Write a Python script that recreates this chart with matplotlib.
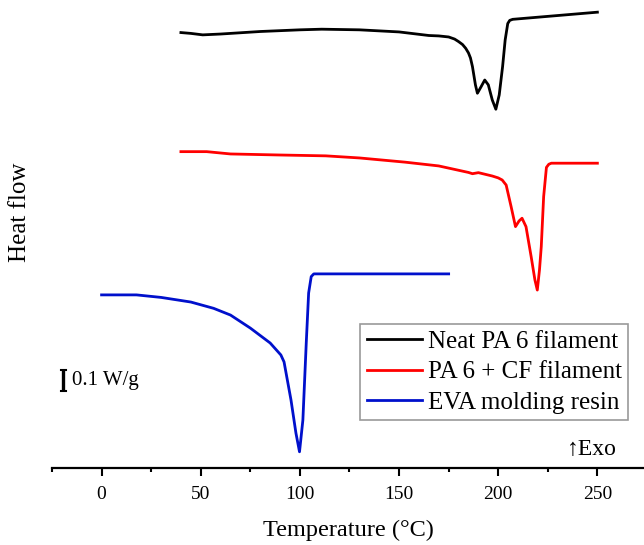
import matplotlib
matplotlib.use("Agg")
import matplotlib.pyplot as plt

plt.rcParams['font.family'] = ['Liberation Serif', 'DejaVu Serif']

# Temperature (°C) and stacked heat flow (W/g, offset)
t_pa6 = [40, 45, 51, 60, 80, 100, 111, 130, 150, 165, 170, 175, 178, 180, 182, 183.6, 185, 186,
         187, 188.5, 189.5, 191, 193.2, 195, 197, 198.8, 200.5, 202.2, 203.5, 204.8, 205.8,
         207.3, 250]
h_pa6 = [2.097, 2.093, 2.086, 2.090, 2.102, 2.110, 2.113, 2.110, 2.100, 2.083, 2.081, 2.076,
         2.066, 2.054, 2.040, 2.022, 2.000, 1.976, 1.935, 1.848, 1.808, 1.833, 1.871, 1.848,
         1.776, 1.732, 1.800, 1.935, 2.062, 2.140, 2.155, 2.160, 2.194]

t_cf = [40, 53, 65, 90, 113, 130, 153, 170, 185, 187, 190, 197, 200, 202, 204, 206.5, 208.7,
        210.5, 212, 214, 216.6, 218.5, 219.7, 220.8, 221.7, 222.9, 224.3, 225.5, 226.8, 250]
h_cf = [1.530, 1.530, 1.519, 1.514, 1.510, 1.500, 1.480, 1.462, 1.431, 1.425, 1.430, 1.414,
        1.405, 1.395, 1.371, 1.268, 1.173, 1.200, 1.213, 1.173, 1.030, 0.919, 0.871, 0.967,
        1.078, 1.316, 1.455, 1.470, 1.475, 1.475]

t_eva = [0, 10, 17.6, 30, 45, 56.5, 65, 75, 85, 90.4, 92, 95.5, 98, 99.8, 101.5, 103.2,
         104.4, 105.7, 107, 175]
h_eva = [0.848, 0.848, 0.848, 0.836, 0.814, 0.784, 0.752, 0.690, 0.619, 0.562, 0.529, 0.348,
         0.190, 0.101, 0.252, 0.619, 0.857, 0.935, 0.948, 0.948]

labels = ["Neat PA 6 filament", "PA 6 + CF filament", "EVA molding resin"]
xticks = [0, 50, 100, 150, 200, 250]

W, H = 644, 545
fig = plt.figure(figsize=(W / 100, H / 100), dpi=100)
ax = fig.add_axes([52 / W, (H - 468.3) / H, 1 - 52 / W, 468.3 / H])

ax.plot(t_pa6, h_pa6, color='black', lw=2.0, label=labels[0])
ax.plot(t_cf, h_cf, color='#ff0000', lw=2.0, label=labels[1])
ax.plot(t_eva, h_eva, color='#0010cc', lw=2.0, label=labels[2])

ax.set_xlim(-25, 273.5)
ax.set_ylim(0.0224, 2.252)
ax.set_xticks(xticks)
ax.set_xticks([-25, 25, 75, 125, 175, 225], minor=True)
ax.tick_params(axis='x', which='major', length=5.5, width=1.5, direction='out', labelsize=14, pad=7)
ax.tick_params(axis='x', which='minor', length=3, width=1.5, direction='out')
ax.set_yticks([])
for s in ['top', 'right', 'left']:
    ax.spines[s].set_visible(False)
ax.spines['bottom'].set_linewidth(1.6)
ax.set_xlabel("Temperature (°C)", fontsize=17.5, labelpad=12)

fig.text(20 / W, 1 - 212 / H, "Heat flow", rotation=90, fontsize=18, ha='center', va='center')

# 0.1 W/g scale bar
ax.plot([-19.3, -19.3], [0.39, 0.49], color='black', lw=2.4, solid_capstyle='butt')
ax.plot([-20.6, -18.0], [0.49, 0.49], color='black', lw=1.5)
ax.plot([-20.6, -18.0], [0.39, 0.39], color='black', lw=1.5)
ax.text(-14.8, 0.44, "0.1 W/g", fontsize=15, ha='left', va='center')

ax.text(260, 0.06, "↑Exo", fontsize=17, ha='right', va='bottom')

leg = ax.legend(loc='upper right', fontsize=18, frameon=True, fancybox=False,
                edgecolor='#808080', handlelength=2.2, handletextpad=0.25,
                borderpad=0.25, labelspacing=0.32, borderaxespad=0)
leg.get_frame().set_linewidth(1.2)
leg.set_bbox_to_anchor((628 / W, 1 - 324 / H), transform=fig.transFigure)

fig.savefig("out.png", dpi=100)
